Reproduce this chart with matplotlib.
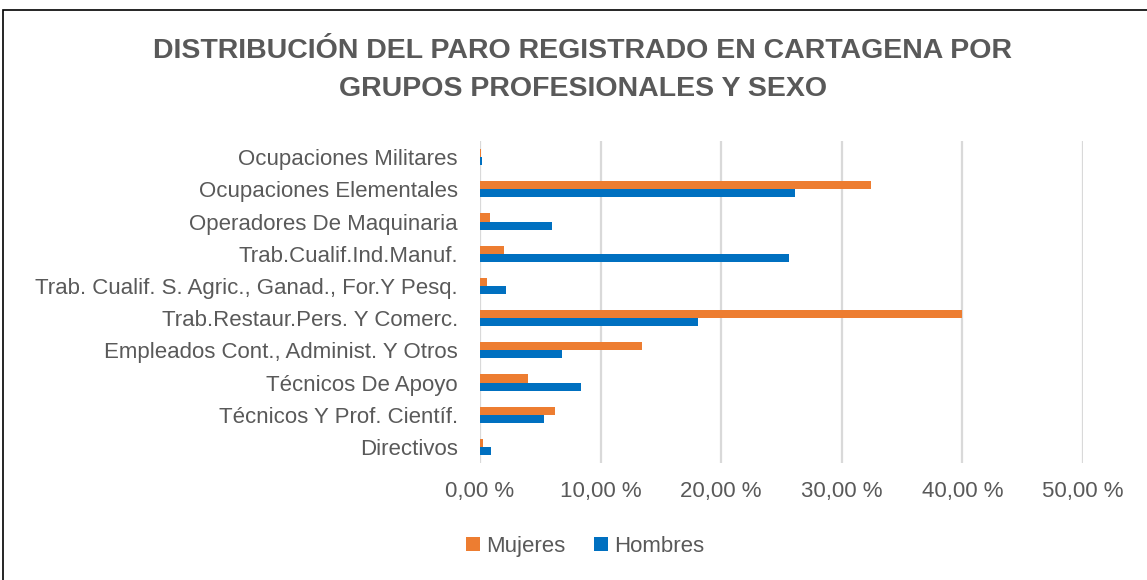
import matplotlib
matplotlib.use("Agg")
import matplotlib.pyplot as plt
from matplotlib.patches import Rectangle
import numpy as np

plt.rcParams.update({
    "font.family": ["Liberation Sans", "DejaVu Sans"],
    "font.size": 13,
})

TEXT = "#595959"
ORANGE = "#ED7D31"
BLUE = "#0070C0"
GRID = "#D9D9D9"

# de abajo a arriba, como en el gráfico
categorias = [
    "Directivos",
    "Técnicos Y Prof. Científ.",
    "Técnicos De Apoyo",
    "Empleados Cont., Administ. Y Otros",
    "Trab.Restaur.Pers. Y Comerc.",
    "Trab. Cualif. S. Agric., Ganad., For.Y Pesq.",
    "Trab.Cualif.Ind.Manuf.",
    "Operadores De Maquinaria",
    "Ocupaciones Elementales",
    "Ocupaciones Militares",
]
mujeres = [0.22, 6.2, 4.0, 13.4, 40.0, 0.55, 2.0, 0.83, 32.4, 0.08]
hombres = [0.88, 5.3, 8.4, 6.8, 18.1, 2.15, 25.6, 6.0, 26.1, 0.2]
xticks = [0, 10, 20, 30, 40, 50]
xticklabels = ["0,00 %", "10,00 %", "20,00 %", "30,00 %", "40,00 %", "50,00 %"]


def main():
    fig = plt.figure(figsize=(11.47, 5.80), dpi=100)
    fig.patch.set_facecolor("white")
    ax = fig.add_axes([0.4185, 0.2017, 0.5257, 0.5552])

    y = np.arange(len(categorias))
    h = 0.25
    ax.barh(y + h / 2, mujeres, h, color=ORANGE, label="Mujeres", zorder=3)
    ax.barh(y - h / 2, hombres, h, color=BLUE, label="Hombres", zorder=3)

    ax.set_xlim(0, 50)
    ax.set_ylim(-0.5, len(categorias) - 0.5)
    ax.set_yticks(y)
    ax.set_yticklabels(categorias, color=TEXT, fontsize=16)
    ax.set_xticks(xticks)
    ax.set_xticklabels(xticklabels, color=TEXT, fontsize=16)
    ax.tick_params(length=0, axis="y", pad=16)
    ax.tick_params(length=0, axis="x", pad=13)
    for s in ax.spines.values():
        s.set_visible(False)
    ax.grid(axis="x", color=GRID, linewidth=1.6, zorder=0)

    fig.text(0.508, 0.912, "DISTRIBUCIÓN DEL PARO REGISTRADO EN CARTAGENA POR",
             ha="center", va="center", fontsize=20.5, fontweight="bold", color=TEXT)
    fig.text(0.508, 0.846, "GRUPOS PROFESIONALES Y SEXO",
             ha="center", va="center", fontsize=20.5, fontweight="bold", color=TEXT)

    leg = fig.legend(loc="center", bbox_to_anchor=(0.51, 0.058), ncol=2, frameon=False,
                     fontsize=16, handlelength=0.65, handleheight=0.65, handletextpad=0.25,
                     columnspacing=1.3)
    for t in leg.get_texts():
        t.set_color(TEXT)

    fig.patches.append(Rectangle((0.003, -0.05), 1.1, 1.033, transform=fig.transFigure,
                                 fill=False, edgecolor="black", linewidth=1.2))

    fig.savefig("out.png", dpi=100, facecolor="white")
    plt.close(fig)


if __name__ == "__main__":
    main()
